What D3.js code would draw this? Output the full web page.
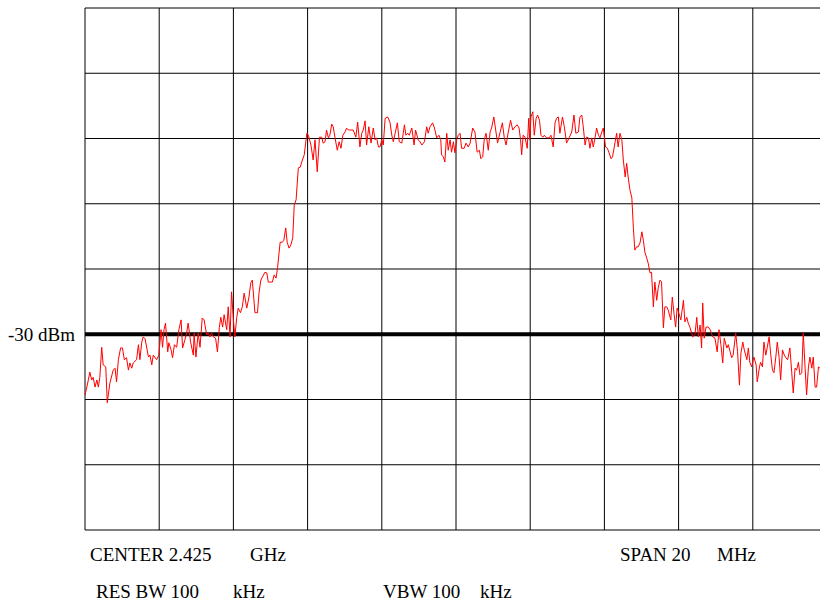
<!DOCTYPE html>
<html>
<head>
  <meta charset="utf-8" />
  <title>Spectrum trace</title>
  <style>
    body { margin: 0; background: #ffffff; }
    svg text { font-family: 'Liberation Serif', 'Times New Roman', serif; fill: #000; }
  </style>
  <script type="text/javascript" src="https://cdnjs.cloudflare.com/ajax/libs/d3/7.8.5/d3.min.js"></script>
</head>
<body>
  <div id="chart"></div>
  <script type="text/javascript">
    // frequency offset from centre (MHz), level (dBm)
    var trace = [
      [-10.00,-39.3],[-9.95,-38.1],[-9.91,-37.0],[-9.87,-35.8],[-9.82,-37.0],[-9.78,-36.6],[-9.73,-38.1],[-9.68,-37.0],
      [-9.64,-38.1],[-9.60,-36.6],[-9.55,-32.0],[-9.51,-34.7],[-9.44,-35.0],[-9.40,-40.5],[-9.33,-37.5],[-9.24,-35.5],
      [-9.19,-35.2],[-9.15,-37.3],[-9.10,-33.9],[-9.04,-32.1],[-8.99,-32.1],[-8.94,-33.9],[-8.88,-33.6],[-8.83,-35.5],
      [-8.79,-34.4],[-8.74,-35.2],[-8.70,-34.4],[-8.61,-33.9],[-8.56,-31.6],[-8.52,-33.9],[-8.47,-31.2],[-8.43,-30.4],
      [-8.38,-30.7],[-8.29,-33.5],[-8.25,-33.2],[-8.20,-34.7],[-8.16,-33.2],[-8.07,-33.9],[-8.01,-33.2],[-7.95,-29.3],
      [-7.91,-32.0],[-7.87,-29.3],[-7.83,-28.3],[-7.77,-32.7],[-7.74,-31.3],[-7.68,-32.4],[-7.64,-33.6],[-7.59,-31.6],
      [-7.53,-32.0],[-7.47,-29.3],[-7.41,-27.8],[-7.37,-32.1],[-7.31,-30.9],[-7.26,-29.8],[-7.22,-28.3],[-7.15,-31.3],
      [-7.08,-33.2],[-7.06,-29.8],[-7.01,-33.5],[-6.95,-29.8],[-6.90,-32.0],[-6.84,-27.5],[-6.79,-27.8],[-6.72,-30.1],
      [-6.68,-29.8],[-6.63,-30.4],[-6.59,-29.8],[-6.54,-30.4],[-6.48,-30.6],[-6.43,-32.7],[-6.38,-29.0],[-6.34,-27.4],
      [-6.29,-28.9],[-6.25,-27.0],[-6.18,-29.3],[-6.14,-25.8],[-6.09,-30.4],[-6.05,-23.5],[-6.00,-27.8],[-5.96,-30.4],
      [-5.91,-27.4],[-5.87,-26.0],[-5.81,-26.7],[-5.76,-25.8],[-5.71,-23.7],[-5.64,-26.0],[-5.58,-24.3],[-5.53,-22.1],
      [-5.49,-21.7],[-5.42,-26.7],[-5.35,-26.7],[-5.31,-23.7],[-5.26,-21.7],
      [-5.15,-20.5],[-5.10,-20.6],[-5.06,-22.0],[-4.99,-22.0],[-4.95,-22.0],[-4.90,-20.9],[-4.85,-21.4],[-4.81,-19.8],
      [-4.74,-15.9],[-4.68,-15.9],[-4.64,-15.6],[-4.59,-13.7],[-4.55,-15.9],[-4.50,-16.8],[-4.45,-16.3],[-4.40,-15.2],
      [-4.36,-10.2],[-4.31,-9.4],[-4.25,-4.5],[-4.20,-4.4],[-4.14,-3.3],[-4.09,-2.5],[-4.02,0.8],[-3.98,0.5],
      [-3.91,-1.0],[-3.85,-3.3],[-3.80,-0.2],[-3.74,-5.1],[-3.68,0.2],[-3.62,0.2],[-3.58,-0.7],[-3.53,-0.5],
      [-3.49,1.3],[-3.44,0.1],[-3.40,0.5],[-3.35,2.2],[-3.31,1.8],[-3.26,0.1],[-3.20,-1.8],[-3.15,-0.5],
      [-3.10,-1.5],[-3.05,0.5],[-2.99,1.0],[-2.95,1.6],[-2.90,1.3],[-2.83,1.3],[-2.77,1.3],[-2.70,0.2],
      [-2.65,2.5],[-2.59,-1.3],[-2.54,0.8],[-2.50,1.3],[-2.45,2.7],[-2.41,-1.0],[-2.35,1.8],[-2.29,-0.7],
      [-2.23,1.6],[-2.18,-0.2],[-2.14,0.1],[-2.09,-1.3],[-2.05,-1.3],[-2.00,-0.2],[-1.96,-1.0],[-1.91,3.1],
      [-1.84,3.3],[-1.78,2.5],[-1.73,0.5],[-1.69,-0.5],[-1.64,0.8],[-1.58,2.4],[-1.53,-0.5],[-1.46,-0.7],
      [-1.39,2.1],[-1.35,0.5],[-1.30,0.8],[-1.26,0.5],[-1.19,1.6],[-1.13,-1.0],[-1.09,1.3],[-1.02,-0.2],
      [-0.97,-0.5],[-0.92,-1.0],[-0.85,-0.5],[-0.79,1.8],[-0.75,0.8],[-0.70,1.8],[-0.63,2.4],[-0.58,1.6],
      [-0.52,0.1],[-0.46,0.5],[-0.41,-0.2],[-0.39,-2.5],[-0.34,-2.8],[-0.30,-3.6],[-0.25,0.8],[-0.21,-1.8],
      [-0.16,-0.2],[-0.12,-2.1],[-0.07,-0.5],
      [-0.03,-2.2],[0.02,-0.2],[0.06,0.5],[0.11,0.8],[0.15,-1.5],[0.22,-1.5],[0.27,-0.7],[0.33,-1.3],
      [0.38,-0.7],[0.45,1.6],[0.51,1.0],[0.57,-2.1],[0.63,-1.8],[0.67,-3.1],[0.72,-2.8],[0.76,-0.2],
      [0.81,0.8],[0.87,-1.8],[0.92,1.0],[0.96,1.6],[1.02,3.3],[1.07,1.3],[1.12,-0.7],[1.19,1.0],
      [1.25,2.4],[1.30,0.2],[1.35,-1.0],[1.41,1.0],[1.47,2.8],[1.53,1.3],[1.59,1.8],[1.65,2.1],
      [1.70,1.6],[1.74,-0.2],[1.77,-2.5],[1.81,0.5],[1.86,0.2],[1.92,-1.5],[1.96,3.1],[1.99,-0.2],
      [2.02,3.3],[2.07,4.1],[2.11,0.5],[2.16,3.1],[2.20,3.6],[2.25,2.8],[2.29,0.5],[2.34,0.2],
      [2.38,0.5],[2.44,0.1],[2.51,0.1],[2.56,0.5],[2.62,-1.3],[2.67,2.4],[2.71,3.1],[2.76,3.3],
      [2.80,0.8],[2.87,3.3],[2.92,1.8],[2.98,-0.7],[3.05,0.1],[3.12,1.0],[3.18,3.6],[3.23,0.8],
      [3.30,1.0],[3.34,3.3],[3.39,3.6],[3.43,1.8],[3.48,-1.0],[3.52,0.2],[3.57,0.1],[3.61,-1.5],
      [3.66,0.1],[3.70,-1.3],[3.75,0.2],[3.79,1.6],[3.84,0.5],[3.88,0.1],[3.93,1.0],[3.97,1.6],
      [4.00,0.2],[4.03,-1.3],[4.08,-1.5],[4.12,-2.1],[4.18,-3.1],[4.22,-2.8],[4.29,-0.5],[4.33,0.8],
      [4.37,-1.3],[4.42,0.8],[4.47,-0.2],[4.51,-3.3],[4.56,-5.9],[4.60,-3.8],[4.64,-5.9],[4.69,-7.9],
      [4.74,-9.1],
      [4.78,-13.6],[4.82,-17.1],[4.87,-16.6],[4.91,-16.6],[4.96,-16.0],[5.01,-14.3],[5.05,-15.6],[5.09,-17.4],
      [5.14,-18.3],[5.18,-19.1],[5.23,-20.6],[5.27,-20.5],[5.32,-25.8],[5.36,-22.0],[5.41,-24.8],[5.45,-22.9],
      [5.50,-21.7],[5.54,-22.0],[5.59,-29.0],[5.63,-25.8],[5.68,-25.8],[5.72,-26.3],[5.79,-27.8],[5.83,-24.3],
      [5.88,-27.0],[5.92,-28.9],[5.96,-26.0],[6.02,-27.0],[6.06,-27.8],[6.13,-24.8],[6.17,-28.1],[6.22,-27.4],
      [6.26,-28.3],[6.31,-29.0],[6.38,-30.4],[6.44,-30.1],[6.49,-27.4],[6.53,-30.4],[6.58,-28.6],[6.62,-32.1],
      [6.65,-25.2],[6.69,-30.6],[6.74,-28.9],[6.80,-28.9],[6.85,-29.3],[6.92,-30.4],[6.98,-30.6],[7.04,-32.7],
      [7.09,-29.3],[7.14,-31.6],[7.19,-34.4],[7.23,-30.6],[7.30,-32.1],[7.34,-31.6],[7.39,-32.7],[7.43,-33.6],
      [7.47,-33.2],[7.54,-29.8],[7.59,-32.7],[7.64,-37.8],[7.68,-32.9],[7.73,-31.2],[7.77,-32.4],[7.84,-33.9],
      [7.88,-32.1],[7.92,-34.3],[7.97,-35.0],[8.03,-33.5],[8.09,-34.7],[8.12,-37.3],[8.18,-35.0],[8.21,-34.3],
      [8.26,-35.0],[8.30,-31.2],[8.35,-33.2],[8.39,-32.0],[8.44,-30.4],[8.48,-32.9],[8.53,-35.5],[8.57,-35.9],
      [8.62,-33.5],[8.66,-31.2],[8.71,-33.6],[8.75,-37.0],[8.80,-32.4],[8.85,-33.2],[8.89,-33.6],[8.94,-33.9],
      [9.00,-32.1],[9.05,-35.9],[9.09,-39.0],[9.14,-35.2],[9.18,-35.5],[9.23,-34.3],[9.27,-36.2],[9.32,-35.9],
      [9.36,-29.8],[9.41,-35.2],[9.45,-39.3],[9.50,-35.0],[9.54,-33.5],[9.59,-35.2],[9.63,-33.5],[9.68,-38.1],
      [9.72,-38.1],[9.77,-35.0],[9.81,-35.2]
    ];

    var freqTicks = [-10, -8, -6, -4, -2, 0, 2, 4, 6, 8, 10];   // MHz, 2 MHz/div
    var levelTicks = [20, 10, 0, -10, -20, -30, -40, -50, -60]; // dBm, 10 dB/div
    var refLevel = -30;
    var refLabel = "-30 dBm";
    var footerRow1 = ["CENTER 2.425", "GHz", "SPAN 20", "MHz"];
    var footerRow2 = ["RES BW 100", "kHz", "VBW 100", "kHz"];

    var w = 820, h = 602;
    var margin = { top: 8, left: 85 };
    var plotW = 742, plotH = 522;

    var x = d3.scaleLinear().domain([-10, 10]).range([margin.left, margin.left + plotW]);
    var y = d3.scaleLinear().domain([-60, 20]).range([margin.top + plotH, margin.top]);

    var svg = d3.select("#chart").append("svg")
      .attr("width", w)
      .attr("height", h);

    // grid
    svg.append("g").selectAll("line")
      .data(freqTicks)
      .enter().append("line")
      .attr("x1", function (d) { return x(d); })
      .attr("x2", function (d) { return x(d); })
      .attr("y1", y(20))
      .attr("y2", y(-60))
      .attr("stroke", "#000")
      .attr("stroke-width", 1);

    svg.append("g").selectAll("line")
      .data(levelTicks)
      .enter().append("line")
      .attr("x1", x(-10))
      .attr("x2", x(10))
      .attr("y1", function (d) { return y(d); })
      .attr("y2", function (d) { return y(d); })
      .attr("stroke", "#000")
      .attr("stroke-width", 1);

    // reference line
    svg.append("line")
      .attr("x1", x(-10))
      .attr("x2", x(10))
      .attr("y1", y(refLevel))
      .attr("y2", y(refLevel))
      .attr("stroke", "#000")
      .attr("stroke-width", 4);

    svg.append("text")
      .attr("x", 8)
      .attr("y", y(refLevel) + 7)
      .attr("font-size", "19px")
      .text(refLabel);

    // trace
    var line = d3.line()
      .x(function (d) { return x(d[0]); })
      .y(function (d) { return y(d[1]); });

    svg.append("path")
      .datum(trace)
      .attr("d", line)
      .attr("fill", "none")
      .attr("stroke", "#ff0000")
      .attr("stroke-width", 1);

    // footer
    var row1X = [90, 250, 620, 717];
    var row2X = [96, 233, 383, 480];
    svg.append("g").selectAll("text")
      .data(footerRow1)
      .enter().append("text")
      .attr("x", function (d, i) { return row1X[i]; })
      .attr("y", 561)
      .attr("font-size", "19px")
      .text(function (d) { return d; });

    svg.append("g").selectAll("text")
      .data(footerRow2)
      .enter().append("text")
      .attr("x", function (d, i) { return row2X[i]; })
      .attr("y", 598)
      .attr("font-size", "19px")
      .text(function (d) { return d; });
  </script>
</body>
</html>
